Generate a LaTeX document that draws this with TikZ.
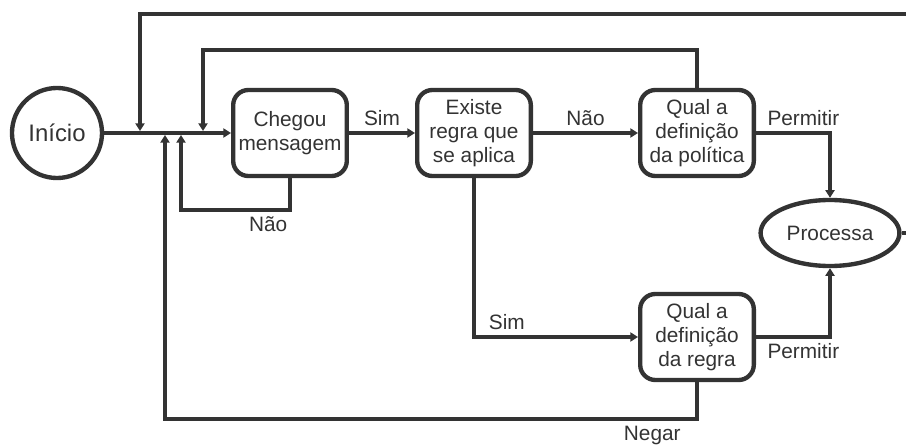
\documentclass[tikz,border=0pt]{standalone}
\usepackage{fontspec}
\setmainfont{Liberation Sans}
\usetikzlibrary{arrows.meta,shapes.geometric}
\definecolor{ink}{HTML}{333333}
\begin{document}
\begin{tikzpicture}[x=0.025cm,y=-0.025cm,
    font=\fontsize{14.8}{16.8}\selectfont,text=ink,
    caixa/.style={draw=ink,line width=3.1pt,rounded corners=0.38cm,align=center,
      minimum width=2.84cm,minimum height=2.15cm,inner sep=0pt},
    seta/.style={draw=ink,line width=3.1pt,-{Triangle[length=5.5pt,width=6.5pt]}}]
  \useasboundingbox (0,0) rectangle (906,445);
  \clip (0,0) rectangle (906,445);
  \node[circle,draw=ink,line width=3.1pt,minimum size=2.25cm,inner sep=0pt,font=\fontsize{17}{20}\selectfont] (inicio) at (57,133) {Início};
  \node[caixa] (chegou) at (290,133) {Chegou\\mensagem};
  \node[caixa] (existe) at (474,133) {Existe\\regra que\\se aplica};
  \node[caixa] (politica) at (697,133) {Qual a\\definição\\da política};
  \node[caixa] (regra) at (697,337) {Qual a\\definição\\da regra};
  \node[ellipse,draw=ink,line width=3.1pt,minimum width=3.47cm,minimum height=1.65cm,inner sep=0pt] (processa) at (830,233) {Processa};
  \coordinate (j1) at (140,131);
  \coordinate (j2) at (203,131);
  \coordinate (j3) at (165,135);
  \coordinate (j4) at (181,135);
  \coordinate (borda) at (914,14);
  \draw[seta] (inicio) -- (chegou);
  \draw[seta] (chegou) -- node[above] {Sim} (existe);
  \draw[seta] (existe) -- node[above] {Não} (politica);
  \draw[seta] (politica.east) -| node[above,pos=0.32] {Permitir} (processa.north);
  \draw[seta] (regra.east) -| node[below,pos=0.32] {Permitir} (processa.south);
  \draw[seta] (existe.south) |- node[above,pos=0.6] {Sim} (regra.west);
  \draw[seta] (chegou.south) -- ++(0,32) -| node[below,pos=0.1] {Não} (j4);
  \draw[seta] (regra.south) -- ++(0,37) -| node[below,pos=0.042] {Negar} (j3);
  \draw[seta] (politica.north) -- ++(0,-38) -| (j2);
  \draw[seta] (processa.east) -| (borda) -| (j1);
\end{tikzpicture}
\end{document}
